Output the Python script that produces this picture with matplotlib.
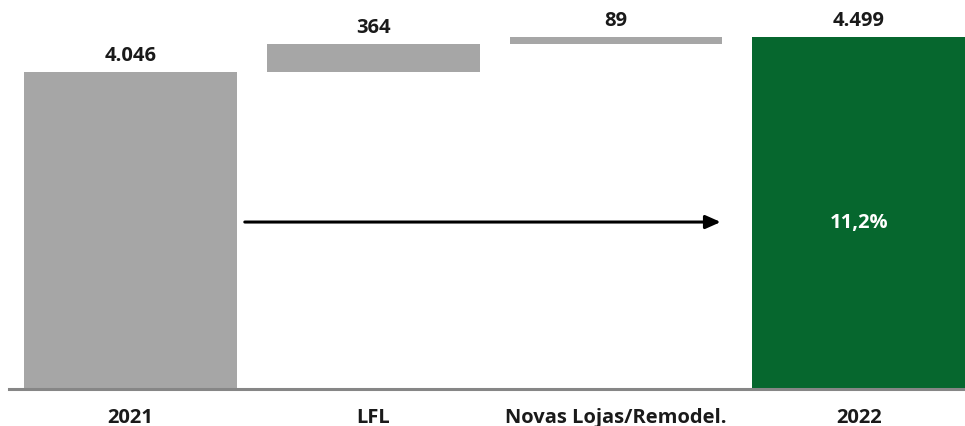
import matplotlib
matplotlib.use("Agg")
import matplotlib.pyplot as plt
import numpy as np

categories = ["2021", "LFL", "Novas Lojas/Remodel.", "2022"]
values = [4046, 364, 89, 4499]
value_labels = ["4.046", "364", "89", "4.499"]
growth_label = "11,2%"

GRAY = "#A6A6A6"
GREEN = "#06672E"
AXIS = "#868686"

plt.rcParams['font.family'] = ['Open Sans', 'DejaVu Sans']

fig = plt.figure(figsize=(9.65, 4.27), dpi=100)
ax = fig.add_axes([9/965, 37/427, 956/965, 390/427])

x = np.arange(len(categories))
bottoms = [0, values[0], values[0] + values[1], 0]
colors = [GRAY, GRAY, GRAY, GREEN]
width = 213/243
ax.bar(x, values, bottom=bottoms, width=width, color=colors, zorder=2)

FS = 14.5
for xi, b, v, lab in zip(x, bottoms, values, value_labels):
    ax.annotate(lab, (xi, b + v), xytext=(0, 5), textcoords="offset points",
                ha="center", va="bottom", fontsize=FS, fontweight="bold", color="#1a1a1a")

ax.text(x[3], 2134, growth_label, ha="center", va="center", fontsize=FS,
        fontweight="bold", color="white")

ax.annotate("", xy=(x[3] - width/2 - 0.13, 2134), xytext=(x[0] + width/2 + 0.033, 2134),
            arrowprops=dict(arrowstyle="-|>,head_length=0.9,head_width=0.4", lw=2.2, color="black",
                            shrinkA=0, shrinkB=0))

ax.set_xlim(-0.5, 3.438)
ax.set_ylim(0, 4499 * 390 / 352)
for s in ["top", "right", "left"]:
    ax.spines[s].set_visible(False)
ax.spines["bottom"].set_color(AXIS)
ax.spines["bottom"].set_linewidth(2.2)
ax.spines["bottom"].set_zorder(3)
ax.set_yticks([])
ax.set_xticks(x)
ax.set_xticklabels(categories, fontsize=FS, fontweight="bold", color="#1a1a1a")
ax.tick_params(axis="x", length=0, pad=13)

fig.savefig("out.png", dpi=100)
